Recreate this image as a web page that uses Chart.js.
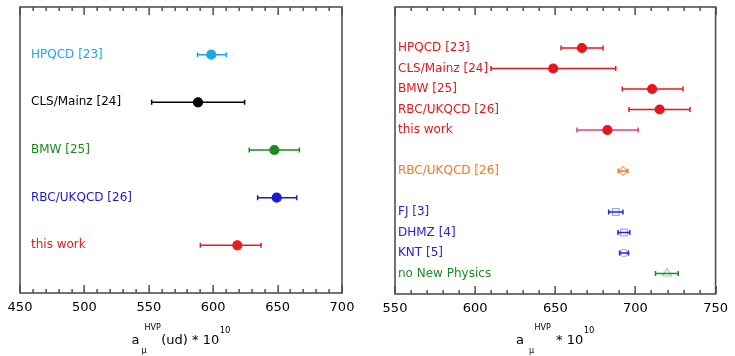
<!DOCTYPE html>
<html>
<head>
<meta charset="utf-8">
<script src="https://cdn.jsdelivr.net/npm/chart.js@4"></script>
<style>
  body { margin:0; background:#fff; }
  canvas { position:absolute; top:0; }
</style>
</head>
<body>
<canvas id="left" width="367" height="356" style="left:0"></canvas>
<canvas id="right" width="368" height="356" style="left:367px"></canvas>
<script>
// left panel: a_mu^HVP(ud)
const leftLabels = ['HPQCD [23]', 'CLS/Mainz [24]', 'BMW [25]', 'RBC/UKQCD [26]', 'this work'];
const leftRows   = [1, 2, 3, 4, 5];
const leftValues = [598.5, 588.2, 647.5, 649.3, 618.7];
const leftLow    = [587.8, 552.2, 628.0, 634.5, 590.0];
const leftHigh   = [610.2, 624.4, 666.9, 664.8, 637.1];
const leftTicks  = [450, 500, 550, 600, 650, 700];

// right panel: a_mu^HVP total
const rightLabels = ['HPQCD [23]', 'CLS/Mainz [24]', 'BMW [25]', 'RBC/UKQCD [26]', 'this work',
                     'RBC/UKQCD [26]', 'FJ [3]', 'DHMZ [4]', 'KNT [5]', 'no New Physics'];
const rightRows   = [2, 3, 4, 5, 6, 8, 10, 11, 12, 13];
const rightValues = [666.6, 648.7, 710.4, 715.1, 682.5, 692.3, 687.7, 692.8, 692.8, 719.7];
const rightLow    = [653.6, 609.9, 691.8, 696.0, 663.5, 689.3, 683.3, 689.1, 690.1, 712.5];
const rightHigh   = [679.8, 687.7, 729.6, 734.0, 701.7, 695.2, 692.2, 696.5, 695.7, 726.7];
const rightTicks  = [550, 600, 650, 700, 750];
const minorStep = 10;

// styles
const leftColors = ['#1aa8e6', '#000000', '#1a8a1a', '#1a1acc', '#e61e1e'];
const red = '#e6161c', orange = '#f07828', blue = '#2424dc', green = '#1f8a24';
const rightText   = [red, red, red, red, red, orange, blue, blue, blue, green];
const rightBar    = [red, red, red, red, '#e2407a', orange, blue, blue, blue, green];
const rightMarker = [red, red, red, red, red, '#f4a070', '#a6a6f0', '#a6a6f0', '#a6a6f0', '#98d49a'];
const rightStyle  = ['circle', 'circle', 'circle', 'circle', 'circle', 'rectRot', 'rect', 'rect', 'circle', 'triangle'];
const rightOpen   = [false, false, false, false, false, true, true, true, true, true];
const rightRadius = [4.5, 4.5, 4.5, 4.5, 4.5, 4.5, 4.8, 4.8, 3.5, 5];

const FONT = '"DejaVu Sans", sans-serif';

const panelPlugin = {
  id: 'panel',
  beforeDatasetsDraw(chart, args, o) { drawBars(chart, o, false); },
  afterDatasetsDraw(chart, args, o) { drawBars(chart, o, true); },
  afterDraw(chart, args, o) {
    const ctx = chart.ctx, a = chart.chartArea, x = chart.scales.x, y = chart.scales.y;
    ctx.save();
    // ticks top and bottom, inward
    ctx.fillStyle = '#222';
    const first = o.ticks[0], last = o.ticks[o.ticks.length - 1];
    const n = Math.round((last - first) / minorStep);
    for (let k = 0; k <= n; k++) {
      const px = Math.round(x.getPixelForValue(first + k * minorStep));
      const len = (k % 5 === 0) ? 8 : 4;
      ctx.fillRect(px - 0.5, a.top, 1.2, len);
      ctx.fillRect(px - 0.5, a.bottom - len, 1.2, len);
    }
    // frame
    ctx.strokeStyle = '#505050'; ctx.lineWidth = 1.6;
    ctx.strokeRect(a.left, a.top, a.right - a.left, a.bottom - a.top);
    // labels
    ctx.font = '12px ' + FONT; ctx.textBaseline = 'middle'; ctx.textAlign = 'left';
    o.labels.forEach((t, i) => {
      ctx.fillStyle = o.textColors[i];
      ctx.fillText(t, a.left + o.labelX, y.getPixelForValue(o.rows[i]));
    });
    // axis title
    ctx.fillStyle = '#000'; ctx.textBaseline = 'alphabetic';
    const parts = o.title;
    parts.forEach(p => { ctx.font = p.size + 'px ' + FONT; p.w = ctx.measureText(p.t).width; });
    let cx = 0;
    const ends = [];
    parts.forEach(p => { p.x = cx + (p.gap || 0); if (!p.overlay) cx = p.x + p.w; ends.push(p.x + p.w); });
    const total = Math.max(...ends);
    const start = (a.left + a.right) / 2 - total / 2;
    parts.forEach(p => {
      ctx.font = p.size + 'px ' + FONT;
      ctx.fillText(p.t, start + p.x, p.y);
    });
    ctx.restore();
  }
};

function drawBars(chart, o, open) {
  const ctx = chart.ctx, x = chart.scales.x, y = chart.scales.y;
  ctx.save();
  ctx.lineWidth = 1.5;
  o.low.forEach((lo, i) => {
    if (!!o.open[i] !== open) return;
    const py = y.getPixelForValue(o.rows[i]);
    const x1 = x.getPixelForValue(lo), x2 = x.getPixelForValue(o.high[i]);
    ctx.strokeStyle = o.barColors[i];
    ctx.beginPath();
    ctx.moveTo(x1, py); ctx.lineTo(x2, py);
    ctx.moveTo(x1, py - 2.5); ctx.lineTo(x1, py + 2.5);
    ctx.moveTo(x2, py - 2.5); ctx.lineTo(x2, py + 2.5);
    ctx.stroke();
  });
  ctx.restore();
}

function makePanel(id, cfg) {
  new Chart(document.getElementById(id), {
    type: 'scatter',
    data: {
      datasets: [{
        data: cfg.values.map((v, i) => ({ x: v, y: cfg.rows[i] })),
        pointStyle: cfg.styles,
        pointRadius: cfg.radius,
        pointBackgroundColor: cfg.fill,
        pointBorderColor: cfg.marker,
        pointBorderWidth: 1.2
      }]
    },
    options: {
      responsive: false,
      animation: false,
      events: [],
      layout: { padding: cfg.padding },
      plugins: {
        legend: { display: false },
        tooltip: { enabled: false },
        panel: {
          labels: cfg.labels, rows: cfg.rows, low: cfg.low, high: cfg.high, ticks: cfg.ticks,
          textColors: cfg.textColors, barColors: cfg.barColors, open: cfg.open,
          labelX: cfg.labelX, title: cfg.title
        }
      },
      scales: {
        x: {
          type: 'linear', min: cfg.ticks[0], max: cfg.ticks[cfg.ticks.length - 1],
          afterBuildTicks: s => { s.ticks = cfg.ticks.map(v => ({ value: v })); },
          afterFit: s => { s.height = cfg.axisHeight; },
          ticks: { color: '#000', font: { family: FONT, size: 13 }, padding: 7, maxRotation: 0 },
          grid: { display: false, drawTicks: false },
          border: { display: false }
        },
        y: { min: 0, max: cfg.yMax, reverse: true, display: false }
      }
    },
    plugins: [panelPlugin]
  });
}

makePanel('left', {
  labels: leftLabels, rows: leftRows, values: leftValues, low: leftLow, high: leftHigh, ticks: leftTicks,
  yMax: 6, textColors: leftColors, barColors: leftColors, marker: leftColors, fill: leftColors,
  styles: 'circle', radius: 4.5, open: leftRows.map(() => false),
  padding: { left: 20, right: 25, top: 7, bottom: 0 }, axisHeight: 63, labelX: 11,
  title: [
    { t: 'a', size: 13, y: 344 },
    { t: '\u03bc', size: 8, y: 353, gap: 2, overlay: true },
    { t: 'HVP', size: 8, y: 330, gap: 5 },
    { t: '(ud) * 10', size: 13, y: 344, gap: 0.5 },
    { t: '10', size: 8.5, y: 333, gap: 0.5 }
  ]
});

makePanel('right', {
  labels: rightLabels, rows: rightRows, values: rightValues, low: rightLow, high: rightHigh, ticks: rightTicks,
  yMax: 14, textColors: rightText, barColors: rightBar, marker: rightMarker,
  fill: rightMarker.map((c, i) => rightOpen[i] ? 'rgba(255,255,255,0)' : c),
  styles: rightStyle, radius: rightRadius, open: rightOpen,
  padding: { left: 28, right: 17, top: 7, bottom: 0 }, axisHeight: 62, labelX: 3,
  title: [
    { t: 'a', size: 13, y: 344 },
    { t: '\u03bc', size: 8, y: 353, gap: 5, overlay: true },
    { t: 'HVP', size: 8, y: 330, gap: 10.5 },
    { t: ' * 10', size: 13, y: 344, gap: 1 },
    { t: '10', size: 8.5, y: 333, gap: 0.5 }
  ]
});
</script>
</body>
</html>
